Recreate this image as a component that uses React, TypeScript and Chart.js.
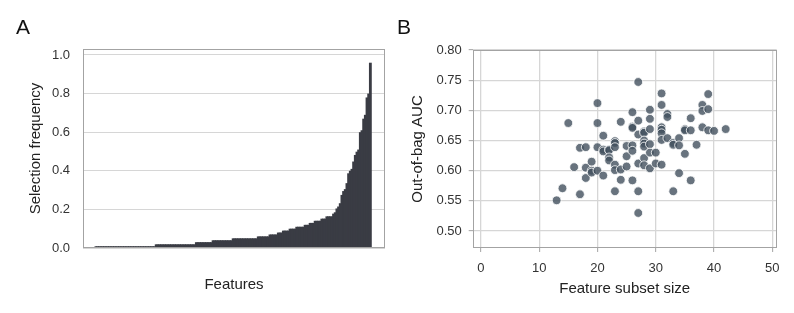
import React, { useEffect, useRef } from "react";
import { Chart, registerables } from "chart.js";

Chart.register(...registerables);

const FONT = "'Liberation Sans', Arial, Helvetica, sans-serif";

// Panel A: selection frequency per feature (sorted ascending)
const selectionFrequency: number[] = [
  0.009, 0.009, 0.009, 0.009, 0.009, 0.009, 0.009, 0.009, 0.009, 0.009, 0.009, 0.009,
  0.009, 0.009, 0.009, 0.009, 0.009, 0.009, 0.009, 0.009, 0.009, 0.009, 0.009, 0.009,
  0.009, 0.009, 0.009, 0.009, 0.009, 0.009, 0.009, 0.009, 0.009, 0.009, 0.009, 0.009,
  0.019, 0.019, 0.019, 0.019, 0.019, 0.019, 0.019, 0.019, 0.019, 0.019, 0.019, 0.019,
  0.019, 0.019, 0.019, 0.019, 0.019, 0.019, 0.019, 0.019, 0.019, 0.019, 0.019, 0.019,
  0.030, 0.030, 0.030, 0.030, 0.030, 0.030, 0.030, 0.030, 0.030, 0.030,
  0.040, 0.040, 0.040, 0.040, 0.040, 0.040, 0.040, 0.040, 0.040, 0.040, 0.040, 0.040,
  0.050, 0.050, 0.050, 0.050, 0.050, 0.050, 0.050, 0.050, 0.050, 0.050, 0.050, 0.050,
  0.050, 0.050, 0.050,
  0.060, 0.060, 0.060, 0.060, 0.060, 0.060, 0.060,
  0.070, 0.070, 0.070, 0.070, 0.070,
  0.080, 0.080, 0.080,
  0.090, 0.090, 0.090, 0.090,
  0.100, 0.100, 0.100, 0.100,
  0.110, 0.110, 0.110, 0.110, 0.110,
  0.120, 0.120, 0.120,
  0.130, 0.130, 0.130,
  0.141, 0.141, 0.141, 0.141,
  0.152, 0.152, 0.152,
  0.164, 0.164, 0.164, 0.164,
  0.178, 0.185, 0.205, 0.215, 0.232, 0.275, 0.295, 0.305, 0.336, 0.387, 0.400, 0.410,
  0.448, 0.482, 0.499, 0.510, 0.600, 0.610, 0.670, 0.690, 0.780, 0.800, 0.960,
];
const freqTicks = [0, 0.2, 0.4, 0.6, 0.8, 1.0];

// Panel B: feature subset size vs out-of-bag AUC
const subsetSize: number[] = [
  13, 14, 15, 16, 17, 17, 18, 18, 18, 19, 19, 19, 20, 20, 20, 20, 21, 21, 21, 21,
  22, 22, 22, 22, 23, 23, 23, 23, 23, 23, 24, 24, 24, 25, 25, 25, 26, 26, 26, 26,
  26, 26, 27, 27, 27, 27, 27, 27, 28, 28, 28, 28, 28, 28, 28, 29, 29, 29, 29, 29,
  29, 30, 30, 31, 31, 31, 31, 31, 31, 31, 32, 32, 32, 33, 33, 33, 34, 34, 34, 35,
  35, 35, 36, 36, 36, 37, 38, 38, 38, 39, 39, 39, 40, 42,
];
const oobAuc: number[] = [
  0.551, 0.571, 0.679, 0.606, 0.638, 0.561, 0.639, 0.605, 0.588, 0.615, 0.600, 0.597,
  0.712, 0.679, 0.639, 0.600, 0.658, 0.635, 0.632, 0.592, 0.635, 0.634, 0.622, 0.617,
  0.649, 0.646, 0.639, 0.610, 0.601, 0.566, 0.681, 0.602, 0.585, 0.641, 0.624, 0.607,
  0.697, 0.673, 0.671, 0.642, 0.633, 0.584, 0.747, 0.683, 0.660, 0.612, 0.566, 0.530,
  0.665, 0.663, 0.650, 0.645, 0.640, 0.621, 0.609, 0.701, 0.686, 0.669, 0.644, 0.630,
  0.604, 0.630, 0.612, 0.728, 0.709, 0.672, 0.668, 0.662, 0.651, 0.610, 0.694, 0.689,
  0.654, 0.646, 0.643, 0.566, 0.654, 0.642, 0.596, 0.669, 0.667, 0.628, 0.687, 0.667,
  0.584, 0.643, 0.709, 0.699, 0.672, 0.727, 0.702, 0.667, 0.666, 0.669,
];
const sizeTicks = [0, 10, 20, 30, 40, 50];
const aucTicks = [0.5, 0.55, 0.6, 0.65, 0.7, 0.75, 0.8];

const BORDER = "#a3a3a3";
const GRID = "#d6d6d6";
const TICK_COLOR = "#333";
const TITLE_COLOR = "#222";

const boxPlugin = {
  id: "panelBox",
  afterDraw(chart: any) {
    const { ctx, chartArea } = chart;
    ctx.save();
    ctx.strokeStyle = BORDER;
    ctx.lineWidth = 1;
    const l = Math.round(chartArea.left) + 0.5;
    const t = Math.round(chartArea.top) + 0.5;
    const r = Math.round(chartArea.right) - 0.5;
    const b = Math.round(chartArea.bottom) - 0.5;
    ctx.strokeRect(l, t, r - l, b - t);
    ctx.restore();
  },
};

function PanelA() {
  const ref = useRef<HTMLCanvasElement>(null);
  useEffect(() => {
    const n = selectionFrequency.length;
    const chart = new Chart(ref.current as HTMLCanvasElement, {
      type: "bar",
      data: {
        datasets: [
          {
            data: selectionFrequency.map((v, i) => ({ x: i, y: v })) as any,
            backgroundColor: "#3a3c44",
            borderWidth: 0,
            barPercentage: 1.7,
            categoryPercentage: 1,
          },
        ],
      },
      options: {
        animation: false,
        responsive: false,
        events: [],
        layout: { padding: { top: 49, right: 15, left: 0, bottom: 0 } },
        plugins: { legend: { display: false }, tooltip: { enabled: false } },
        scales: {
          x: {
            type: "linear",
            offset: false,
            min: -7.75,
            max: n - 0.5 + 8.25,
            grid: { display: false, offset: false },
            border: { display: false },
            ticks: { display: false },
            title: {
              display: true,
              text: "Features",
              color: TITLE_COLOR,
              font: { family: FONT, size: 15 },
              padding: { top: 0, bottom: 19 },
            },
            afterFit: (s: any) => {
              s.height = 65;
            },
          },
          y: {
            min: 0,
            max: 1.031,
            afterBuildTicks: (s: any) => {
              s.ticks = freqTicks.map((v) => ({ value: v }));
            },
            ticks: {
              callback: (v: any) => Number(v).toFixed(1),
              color: TICK_COLOR,
              font: { family: FONT, size: 13 },
              padding: 13,
            },
            grid: { color: GRID, drawTicks: false, lineWidth: 1 },
            border: { display: false },
            title: {
              display: true,
              text: "Selection frequency",
              color: TITLE_COLOR,
              font: { family: FONT, size: 15 },
              padding: { top: 27, bottom: 0 },
            },
            afterFit: (s: any) => {
              s.width = 83;
            },
          },
        },
      },
      plugins: [boxPlugin],
    });
    return () => chart.destroy();
  }, []);
  return <canvas ref={ref} width={400} height={313} style={{ width: 400, height: 313, display: "block" }} />;
}

function PanelB() {
  const ref = useRef<HTMLCanvasElement>(null);
  useEffect(() => {
    const chart = new Chart(ref.current as HTMLCanvasElement, {
      type: "scatter",
      data: {
        datasets: [
          {
            data: subsetSize.map((x, i) => ({ x, y: oobAuc[i] })),
            backgroundColor: "rgba(66,80,94,0.8)",
            borderColor: "#ffffff",
            borderWidth: 0.8,
            pointRadius: 4.4,
          },
        ],
      },
      options: {
        animation: false,
        responsive: false,
        events: [],
        layout: { padding: { top: 50, right: 17.3, left: 0, bottom: 0 } },
        plugins: { legend: { display: false }, tooltip: { enabled: false } },
        scales: {
          x: {
            type: "linear",
            min: -1.4,
            max: 50.75,
            afterBuildTicks: (s: any) => {
              s.ticks = sizeTicks.map((v) => ({ value: v }));
            },
            ticks: {
              color: TICK_COLOR,
              font: { family: FONT, size: 13 },
              padding: 9,
            },
            grid: { color: GRID, lineWidth: 1.3, tickLength: 4, tickColor: BORDER, tickWidth: 1 },
            border: { display: false },
            title: {
              display: true,
              text: "Feature subset size",
              color: TITLE_COLOR,
              font: { family: FONT, size: 15 },
              padding: { top: 0, bottom: 15 },
            },
            afterFit: (s: any) => {
              s.height = 65;
            },
          },
          y: {
            min: 0.472,
            max: 0.8,
            afterBuildTicks: (s: any) => {
              s.ticks = aucTicks.map((v) => ({ value: v }));
            },
            ticks: {
              callback: (v: any) => Number(v).toFixed(2),
              color: TICK_COLOR,
              font: { family: FONT, size: 13 },
              padding: 7,
            },
            grid: { color: GRID, lineWidth: 1.3, tickLength: 4, tickColor: BORDER, tickWidth: 1 },
            border: { display: false },
            title: {
              display: true,
              text: "Out-of-bag AUC",
              color: TITLE_COLOR,
              font: { family: FONT, size: 15 },
              padding: { top: 12, bottom: 0 },
            },
            afterFit: (s: any) => {
              s.width = 75.7;
            },
          },
        },
      },
      plugins: [boxPlugin],
    });
    return () => chart.destroy();
  }, []);
  return <canvas ref={ref} width={397} height={313} style={{ width: 397, height: 313, display: "block" }} />;
}

const panelLetter: React.CSSProperties = {
  position: "absolute",
  fontFamily: FONT,
  fontSize: 21,
  lineHeight: 1,
  color: "#111",
};

export default function App() {
  return (
    <div
      style={{
        position: "absolute",
        left: 0,
        top: 0,
        width: 794,
        height: 313,
        background: "#ffffff",
        overflow: "hidden",
      }}
    >
      <div style={{ position: "absolute", left: 0, top: 0 }}>
        <PanelA />
      </div>
      <div style={{ position: "absolute", left: 397, top: 0 }}>
        <PanelB />
      </div>
      <div style={{ ...panelLetter, left: 16, top: 15.6 }}>A</div>
      <div style={{ ...panelLetter, left: 397, top: 15.6 }}>B</div>
    </div>
  );
}
